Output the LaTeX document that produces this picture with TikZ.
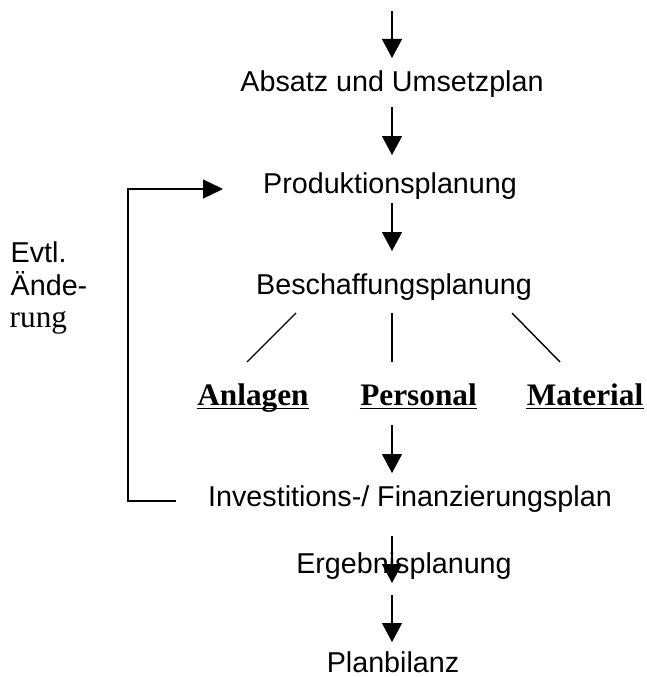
\documentclass[tikz,border=0pt]{standalone}
\usepackage{fontspec}
\setmainfont{Liberation Sans}
\newfontfamily\tnr{Liberation Serif}
\usetikzlibrary{arrows.meta,calc}
\begin{document}
\begin{tikzpicture}[x=1pt,y=-1pt,
  line width=1.4pt,
  txt/.style={inner sep=0pt, anchor=base, font=\fontsize{28.7}{33}\selectfont},
  ser/.style={inner sep=0pt, anchor=base, font=\tnr\fontsize{31.3}{36}\selectfont},
  serb/.style={inner sep=0pt, anchor=base, font=\tnr\bfseries\fontsize{31.3}{36}\selectfont},
  arr/.style={-{Triangle[width=20pt,length=19pt]}},
  fb/.style={-{Triangle[width=19pt,length=20pt]}, line join=miter},
  ul/.style={line width=1.6pt}]
\useasboundingbox (0,0) rectangle (646,677);
\coordinate (col) at (392,0);
\coordinate (fbc) at (128,0);
\coordinate (start) at (392,11);
% nodes
\node[txt] (abs) at (392,92) {Absatz und Umsetzplan};
\node[txt] (prod) at (390,193) {Produktionsplanung};
\node[txt] (besch) at (394,294) {Beschaffungsplanung};
\node[txt, anchor=base west] (evtl) at (10,262) {Evtl.};
\node[txt, anchor=base west] (aend) at (10,295) {Ände-};
\node[ser, anchor=base west] (rung) at (9,327) {rung};
\node[serb] (anl) at (253,405) {Anlagen};
\node[serb] (pers) at (418.5,405) {Personal};
\node[serb] (mat) at (585,405) {Material};
\node[txt] (inv) at (410,506) {Investitions-/ Finanzierungsplan};
\node[txt] (erg) at (404,573) {Ergebnisplanung};
\node[txt] (plan) at (393,672) {Planbilanz};
% underlines
\foreach \n in {anl,pers,mat}
  \draw[ul] ($(\n.base west)+(0,3.5)$) -- ($(\n.base east)+(0,3.5)$);
% main arrows
\draw[arr] (start) -- ($(abs.base -| col)+(0,-34)$);
\draw[arr] ($(abs.base -| col)+(0,15)$) -- ($(prod.base -| col)+(0,-38)$);
\draw[arr] ($(prod.base -| col)+(0,10)$) -- ($(besch.base -| col)+(0,-43)$);
% branches
\draw ($(besch.base)+(-98,19)$) -- ($(anl.base)+(-6,-43)$);
\draw ($(besch.base -| col)+(0,19)$) -- ($(pers.base -| col)+(0,-43)$);
\draw ($(besch.base)+(118,19)$) -- ($(mat.base)+(-25,-43)$);
% lower arrows
\draw[arr] ($(pers.base -| col)+(0,20)$) -- ($(inv.base -| col)+(0,-33)$);
\draw[arr] ($(inv.base -| col)+(0,30)$) -- ($(erg.base -| col)+(0,10)$);
\draw[arr] ($(erg.base -| col)+(0,22)$) -- ($(plan.base -| col)+(0,-30)$);
% feedback loop
\draw[fb] ($(inv.base)+(-234,-5)$) coordinate (fb1) -- (fb1 -| fbc)
  -- ($(prod.base -| fbc)+(0,-4)$) -- ($(prod.base)+(-167,-4)$);
\end{tikzpicture}
\end{document}
